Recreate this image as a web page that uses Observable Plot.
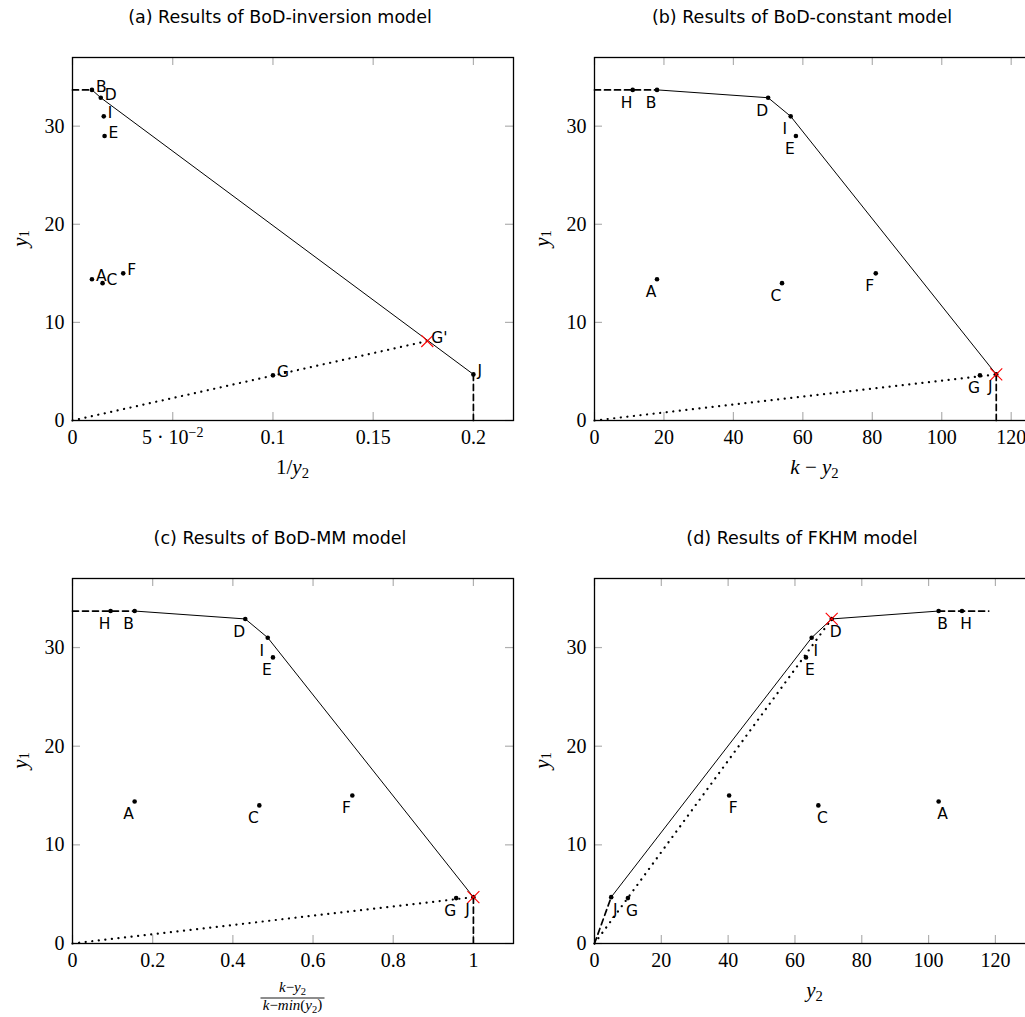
<!DOCTYPE html>
<html><head><meta charset="utf-8">
<script src="https://cdn.jsdelivr.net/npm/d3@7"></script>
<script src="https://cdn.jsdelivr.net/npm/@observablehq/plot@0.6"></script>
<style>
html,body{margin:0;padding:0;background:#fff;overflow:hidden;}
#root{position:relative;width:1025px;height:1017px;overflow:hidden;background:#fff;}
.panel{position:absolute;}
.title{position:absolute;width:560px;text-align:center;font-family:"DejaVu Sans";font-size:17.5px;line-height:22px;color:#000;white-space:nowrap;}
</style></head><body><div id="root"></div>
<script>
// ---- data ----
const names = ["A","B","C","D","E","F","G","H","I","J"];
const y1Vals = [14.4, 33.7, 14.0, 32.9, 29.0, 15.0, 4.6, 33.7, 31.0, 4.7];
// x positions in each panel
const xInversion = [0.0097, 0.0097, 0.0150, 0.0141, 0.0160, 0.0253, 0.100, null, 0.0156, 0.200];
const xConstant  = [18, 18, 54, 50, 58, 81, 111, 11, 56.5, 115.7];
const xMM        = [0.155, 0.155, 0.466, 0.431, 0.500, 0.698, 0.957, 0.095, 0.487, 1.0];
const xFKHM      = [103, 103, 67, 71, 63.3, 40.3, 10, 110, 65, 5];
const gPrimeInv  = {name: "G'", x: 0.177, y: 8.1};
const fkhmDashEnd = 118;

const yTicks = [0, 10, 20, 30];
const ticksInv = [0, 0.05, 0.1, 0.15, 0.2];
const tickLabelsInv = ["0", "5·10^-2", "0.1", "0.15", "0.2"];
const ticks120 = [0, 20, 40, 60, 80, 100, 120];
const ticksMM = [0, 0.2, 0.4, 0.6, 0.8, 1];
const tickLabelsMM = ["0", "0.2", "0.4", "0.6", "0.8", "1"];

const frontierInv = ["B","D","J"];
const frontierConst = ["B","D","I","J"];
const frontierMM = ["B","D","I","J"];
const frontierFKHM = ["J","I","D","B"];

const titles = ["(a) Results of BoD-inversion model", "(b) Results of BoD-constant model",
                "(c) Results of BoD-MM model", "(d) Results of FKHM model"];

// ---- helpers ----
function pts(xs) {
  return names.map((n, i) => ({name: n, x: xs[i], y: y1Vals[i]})).filter(d => d.x != null);
}
function get(list, n) { return list.find(d => d.name === n); }

const root = document.getElementById("root");

function panel(cfg) {
  const P = pts(cfg.xs);
  const W = 522, mL = 72, mR = 9, mT = 27;
  const fw = W - mL - mR, fh = cfg.fh;
  const H = mT + fh + cfg.mB;
  const front = cfg.frontier.map(n => get(P, n));
  const tick = 8;
  const tickColor = "#b0b0b0";
  const labelPts = cfg.extraLabels ? P.concat(cfg.extraLabels) : P;
  const fmt = cfg.tickLabels ? (d => cfg.tickLabels[cfg.xTicks.indexOf(d)]) : (d => String(d));
  const svg = Plot.plot({
    width: W, height: H,
    marginLeft: mL, marginRight: mR, marginTop: mT, marginBottom: cfg.mB,
    style: {background: "transparent", fontFamily: "Liberation Serif", fontSize: "20px", maxWidth: "none", overflow: "visible", color: "black"},
    x: {domain: cfg.xDomain, label: null},
    y: {domain: [0, 37], label: null},
    marks: [
      Plot.ruleX(cfg.xTicks, {stroke: tickColor, strokeWidth: 1.2, insetTop: fh - tick}),
      Plot.ruleX(cfg.xTicks, {stroke: tickColor, strokeWidth: 1.2, insetBottom: fh - tick}),
      Plot.ruleY(yTicks, {stroke: tickColor, strokeWidth: 1.2, insetRight: fw - tick}),
      Plot.ruleY(yTicks, {stroke: tickColor, strokeWidth: 1.2, insetLeft: fw - tick}),
      Plot.line(cfg.dotted, {x: "x", y: "y", stroke: "black", strokeWidth: 2.2, strokeDasharray: "0.1,6.5", strokeLinecap: "round"}),
      ...cfg.dashed.map(seg => Plot.line(seg, {x: "x", y: "y", stroke: "black", strokeWidth: 1.7, strokeDasharray: "6,4"})),
      Plot.line(front, {x: "x", y: "y", stroke: "black", strokeWidth: 1}),
      Plot.dot(P, {x: "x", y: "y", r: 2.3, fill: "black", stroke: "none"}),
      Plot.dot([cfg.cross], {x: "x", y: "y", symbol: "times", r: 5.5, stroke: "red", strokeWidth: 1.1}),
      Plot.text(labelPts, {x: "x", y: "y", text: "name", dx: cfg.ldx, dy: cfg.ldy, textAnchor: cfg.lanchor,
        fontFamily: "DejaVu Sans", fontSize: 15.5, fill: "black"}),
      Plot.frame({stroke: "black", strokeWidth: 1.3}),
      Plot.axisX(cfg.xTicks, {tickSize: 0, tickPadding: 9, tickFormat: fmt, label: null, fontSize: 20}),
      Plot.axisY(yTicks, {tickSize: 0, tickPadding: 8, label: null, fontSize: 20})
    ]
  });
  const div = document.createElement("div");
  div.className = "panel";
  div.style.left = cfg.left + "px";
  div.style.top = cfg.top + "px";
  div.appendChild(svg);
  root.appendChild(div);

  const t = document.createElement("div");
  t.className = "title";
  t.textContent = cfg.title;
  t.style.left = (cfg.left + 0) + "px";
  t.style.top = cfg.titleTop + "px";
  root.appendChild(t);

  const s = d3.select(svg);
  // superscript tick label
  s.selectAll("text").filter(function() { return this.textContent === "5·10^-2"; }).each(function() {
    const el = d3.select(this);
    el.text(null);
    el.append("tspan").text("5 · 10");
    el.append("tspan").attr("dy", "-0.45em").attr("font-size", "14px").text("−2");
  });
  // y axis label
  const cy = mT + fh / 2;
  const yl = s.append("text").attr("transform", `translate(22,${cy}) rotate(-90)`)
    .attr("text-anchor", "middle").attr("dominant-baseline", "middle")
    .attr("font-family", "Liberation Serif").attr("font-size", 21);
  yl.append("tspan").attr("font-style", "italic").text("y");
  yl.append("tspan").attr("font-size", 14).attr("dy", "0.3em").text("1");
  // x axis label
  cfg.xlabel(s, mL + fw / 2, mT + fh);
}

function subLabel(s, cx, y, parts, size) {
  const t = s.append("text").attr("x", cx).attr("y", y).attr("text-anchor", "middle")
    .attr("font-family", "Liberation Serif").attr("font-size", size);
  parts.forEach(p => {
    const ts = t.append("tspan").text(p.t);
    if (p.i) ts.attr("font-style", "italic");
    if (p.sub) ts.attr("font-size", size * 0.7).attr("dy", "0.25em");
    if (p.up) ts.attr("dy", "-0.25em");
  });
  return t;
}

// (a)
(function() {
  const P = pts(xInversion);
  const B = get(P, "B"), J = get(P, "J");
  panel({
    left: 0, top: 30, titleTop: 6, fh: 363, mB: 60, title: titles[0],
    xs: xInversion, xDomain: [0, 0.22], xTicks: ticksInv, tickLabels: tickLabelsInv,
    frontier: frontierInv,
    dotted: [{x: 0, y: 0}, gPrimeInv],
    dashed: [[{x: 0, y: B.y}, B], [J, {x: J.x, y: 0}]],
    cross: gPrimeInv, extraLabels: [gPrimeInv],
    ldx: 4, ldy: -3, lanchor: "start",
    xlabel: (s, cx, by) => subLabel(s, cx, by + 54, [{t: "1/"}, {t: "y", i: true}, {t: "2", sub: true}], 21)
  });
})();
// (b)
(function() {
  const P = pts(xConstant);
  const B = get(P, "B"), J = get(P, "J");
  panel({
    left: 522, top: 30, titleTop: 6, fh: 363, mB: 60, title: titles[1],
    xs: xConstant, xDomain: [0, 127], xTicks: ticks120,
    frontier: frontierConst,
    dotted: [{x: 0, y: 0}, J],
    dashed: [[{x: 0, y: B.y}, B], [J, {x: J.x, y: 0}]],
    cross: J,
    ldx: -6, ldy: 13, lanchor: "middle",
    xlabel: (s, cx, by) => subLabel(s, cx, by + 54, [{t: "k", i: true}, {t: " − "}, {t: "y", i: true}, {t: "2", sub: true}], 21)
  });
})();
// (c)
(function() {
  const P = pts(xMM);
  const B = get(P, "B"), J = get(P, "J");
  panel({
    left: 0, top: 551, titleTop: 527, fh: 365, mB: 74, title: titles[2],
    xs: xMM, xDomain: [0, 1.1], xTicks: ticksMM, tickLabels: tickLabelsMM,
    frontier: frontierMM,
    dotted: [{x: 0, y: 0}, J],
    dashed: [[{x: 0, y: B.y}, B], [J, {x: J.x, y: 0}]],
    cross: J,
    ldx: -6, ldy: 13, lanchor: "middle",
    xlabel: (s, cx, by) => {
      subLabel(s, cx, by + 49, [{t: "k", i: true}, {t: "−"}, {t: "y", i: true}, {t: "2", sub: true}], 15);
      s.append("line").attr("x1", cx - 32).attr("x2", cx + 32).attr("y1", by + 55).attr("y2", by + 55)
        .attr("stroke", "black").attr("stroke-width", 0.9);
      subLabel(s, cx, by + 67, [{t: "k", i: true}, {t: "−"}, {t: "min", i: true}, {t: "("}, {t: "y", i: true}, {t: "2", sub: true}, {t: ")", up: true}], 15);
    }
  });
})();
// (d)
(function() {
  const P = pts(xFKHM);
  const B = get(P, "B"), J = get(P, "J"), D = get(P, "D");
  panel({
    left: 522, top: 551, titleTop: 527, fh: 365, mB: 74, title: titles[3],
    xs: xFKHM, xDomain: [0, 132], xTicks: ticks120,
    frontier: frontierFKHM,
    dotted: [{x: 0, y: 0}, D],
    dashed: [[{x: 0, y: 0}, J], [B, {x: fkhmDashEnd, y: B.y}]],
    cross: D,
    ldx: 4, ldy: 13, lanchor: "middle",
    xlabel: (s, cx, by) => subLabel(s, cx, by + 54, [{t: "y", i: true}, {t: "2", sub: true}], 21)
  });
})();
</script>
</body></html>
